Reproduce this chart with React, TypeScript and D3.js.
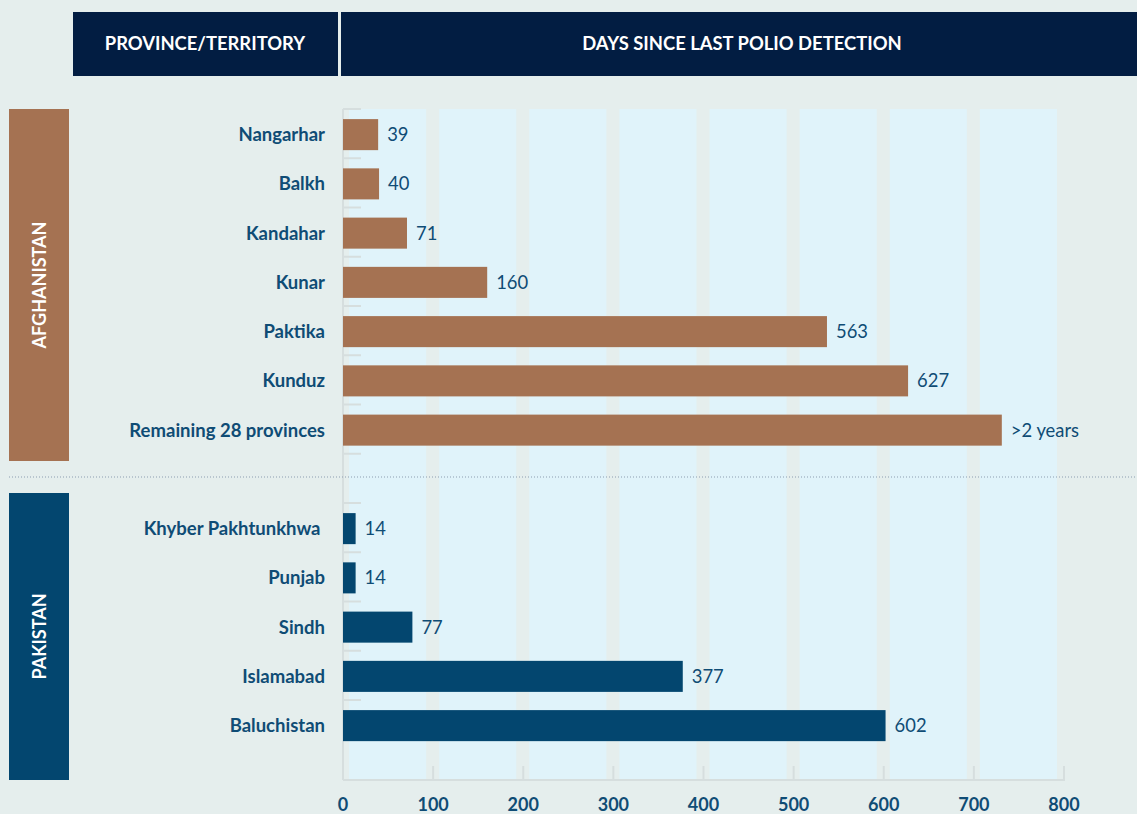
import * as d3 from 'd3'

// bar lengths as drawn, and the labels printed next to them
const afgNames = ['Nangarhar', 'Balkh', 'Kandahar', 'Kunar', 'Paktika', 'Kunduz', 'Remaining 28 provinces']
const afgDays = [39, 40, 71, 160, 537, 627, 731]
const afgLabels = ['39', '40', '71', '160', '563', '627', '>2 years']

const pakNames = ['Khyber Pakhtunkhwa ', 'Punjab', 'Sindh', 'Islamabad', 'Baluchistan']
const pakDays = [14, 14, 77, 377, 602]
const pakLabels = ['14', '14', '77', '377', '602']

const xTicks = [0, 100, 200, 300, 400, 500, 600, 700, 800]

const W = 1137
const H = 814
const FONT = 'Lato, "Open Sans", sans-serif'
const BG = '#e5eeed'
const NAVY = '#021d42'
const BROWN = '#a57252'
const BLUE = '#03466f'
const TEXT = '#0f4c75'

type Row = { key: string; name: string; days: number; label: string; color: string }

const rows: Row[] = [
  ...afgNames.map((n, i) => ({ key: 'a' + i, name: n, days: afgDays[i], label: afgLabels[i], color: BROWN })),
  ...pakNames.map((n, i) => ({ key: 'p' + i, name: n, days: pakDays[i], label: pakLabels[i], color: BLUE })),
]
const domain = [...rows.slice(0, 7).map((r) => r.key), 'gap', ...rows.slice(7).map((r) => r.key)]

export default function App() {
  const x = d3.scaleLinear().domain([0, 800]).range([343, 1064])
  const y = d3.scaleBand<string>().domain(domain).range([110, 750.25]).paddingInner(0.37).paddingOuter(0.185)
  const step = y.step()
  const bw = y.bandwidth()
  const boundaries = d3.range(0, domain.length).map((i) => 109 + i * step)
  const axisY = 780
  const afgBottom = 461

  return (
    <svg width={W} height={H} style={{ position: 'absolute', left: 0, top: 0, display: 'block' }} fontFamily={FONT}>
      <rect width={W} height={H} fill={BG} />

      {/* header */}
      <rect x={73} y={12} width={265} height={64} fill={NAVY} />
      <rect x={341} y={12} width={W - 341} height={64} fill={NAVY} />
      <text x={205} y={44} dy="0.35em" textAnchor="middle" fill="#fff" fontSize={18.4} fontWeight={700}>
        PROVINCE/TERRITORY
      </text>
      <text x={742} y={44} dy="0.35em" textAnchor="middle" fill="#fff" fontSize={18.4} fontWeight={700}>
        DAYS SINCE LAST POLIO DETECTION
      </text>

      {/* light bands between ticks */}
      {xTicks.slice(0, -1).map((t, i) => (
        <rect key={t} x={x(t) + 6} y={109} width={x(xTicks[i + 1]) - x(t) - 13} height={axisY - 109} fill="#e0f3fa" />
      ))}

      {/* axes */}
      <line x1={343} x2={343} y1={109} y2={axisY} stroke="#d6dede" strokeWidth={2} />
      <line x1={343} x2={1065} y1={axisY} y2={axisY} stroke="#d6dede" strokeWidth={2} />
      {boundaries.map((b, i) => (
        <line key={i} x1={343} x2={361} y1={b} y2={b} stroke="#d6dede" strokeWidth={2} />
      ))}
      {xTicks.map((t) => (
        <g key={t}>
          <line x1={x(t)} x2={x(t)} y1={766} y2={axisY} stroke="#d6dede" strokeWidth={2} />
          <text x={x(t)} y={805} dy="0.35em" textAnchor="middle" fill={TEXT} fontSize={18} fontWeight={700}>
            {t}
          </text>
        </g>
      ))}

      {/* country boxes */}
      <rect x={9} y={109} width={60} height={afgBottom - 109} fill={BROWN} />
      <rect x={9} y={493} width={60} height={axisY - 493} fill={BLUE} />
      <text transform={`translate(40,${(109 + afgBottom) / 2}) rotate(-90)`} dy="0.35em" textAnchor="middle" fill="#fff" fontSize={18} fontWeight={700}>
        AFGHANISTAN
      </text>
      <text transform={`translate(40,${(493 + axisY) / 2}) rotate(-90)`} dy="0.35em" textAnchor="middle" fill="#fff" fontSize={18} fontWeight={700}>
        PAKISTAN
      </text>

      {/* divider */}
      <line x1={9} x2={W} y1={477} y2={477} stroke="#8c9db0" strokeWidth={1} strokeDasharray="1,2" />

      {/* bars */}
      {rows.map((r) => {
        const yy = y(r.key)!
        return (
          <g key={r.key}>
            <rect x={x(0)} y={yy} width={x(r.days) - x(0)} height={bw} fill={r.color} />
            <text x={325} y={yy + bw / 2} dy="0.35em" textAnchor="end" fill={TEXT} fontSize={18.5} fontWeight={700} style={{ whiteSpace: 'pre' }}>
              {r.name}
            </text>
            <text x={x(r.days) + 9} y={yy + bw / 2} dy="0.35em" fill={TEXT} fontSize={18.4}>
              {r.label}
            </text>
          </g>
        )
      })}
    </svg>
  )
}
